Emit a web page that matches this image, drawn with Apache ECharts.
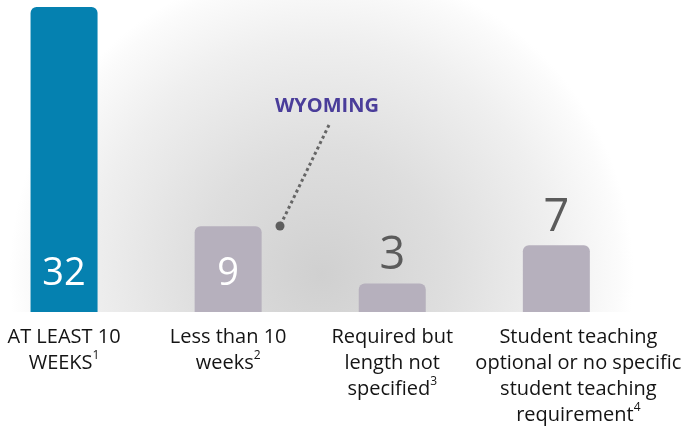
<!DOCTYPE html>
<html>
<head>
<meta charset="utf-8">
<script src="https://cdn.jsdelivr.net/npm/echarts@6/dist/echarts.min.js"></script>
<style>
  html, body { margin: 0; padding: 0; background: #ffffff; }
  #chart { width: 699px; height: 427px; }
</style>
</head>
<body>
<div id="chart"></div>
<script>
// Student teaching requirement length: number of states per category
const categories = [
  'AT LEAST 10\nWEEKS',
  'Less than 10\nweeks',
  'Required but\nlength not\nspecified',
  'Student teaching\noptional or no specific\nstudent teaching\nrequirement'
];
const footnotes = ['1', '2', '3', '4'];
const stateCounts = [32, 9, 3, 7];
const calloutText = 'WYOMING';

const FONT = '"Open Sans", "Noto Sans", "DejaVu Sans", sans-serif';
const BLUE = '#0581b0';
const GREY_BAR = '#b6b0bd';

const chart = echarts.init(document.getElementById('chart'), null, { renderer: 'canvas' });

// Category labels: each line as rich text, footnote mark as a superscript on the last line
function categoryLabel(value) {
  const idx = categories.indexOf(value);
  const lines = value.split('\n');
  return lines.map((l, i) => {
    let s = '{t|' + l + '}';
    if (i === lines.length - 1) s += '{s|' + footnotes[idx] + '}';
    return s;
  }).join('\n');
}

const barData = stateCounts.map((v, i) => {
  const first = i === 0;
  const inside = v >= 8;
  return {
    value: v,
    itemStyle: { color: first ? BLUE : GREY_BAR, borderRadius: [6, 6, 0, 0] },
    label: inside ? {
      show: true, position: 'insideBottom', distance: 18,
      color: '#ffffff', fontSize: 38, lineHeight: 40, fontFamily: FONT, fontWeight: 'normal'
    } : {
      show: true, position: 'top', distance: 4,
      color: '#5b5b5b', fontSize: 45, lineHeight: 46, fontFamily: FONT, fontWeight: 'normal'
    }
  };
});

const axisData = categories.map((c, i) => i === 3
  ? { value: c, textStyle: { padding: [0, 0, 0, 44] } }
  : c);

const option = {
  animation: false,
  backgroundColor: '#ffffff',
  grid: { left: -18, right: 60.6, top: 7, bottom: 115, containLabel: false, outerBoundsMode: 'none' },
  xAxis: {
    type: 'category',
    data: axisData,
    axisLine: { show: false },
    axisTick: { show: false },
    splitLine: { show: false },
    axisLabel: {
      interval: 0,
      margin: 12,
      formatter: categoryLabel,
      rich: {
        t: { fontSize: 20, lineHeight: 26, color: '#141414', fontFamily: FONT },
        s: { fontSize: 12, lineHeight: 20, color: '#141414', fontFamily: FONT, verticalAlign: 'top' }
      }
    }
  },
  yAxis: { type: 'value', min: 0, max: 32, show: false, splitLine: { show: false } },
  graphic: [
    {
      // soft grey radial backdrop behind the bars
      type: 'rect', z: -10, silent: true,
      shape: { x: 0, y: 0, width: 699, height: 312 },
      style: {
        fill: {
          type: 'radial', x: 0.46, y: 0.88, r: 1.0,
          colorStops: [
            { offset: 0, color: '#d0d0d0' },
            { offset: 0.4, color: '#dedede' },
            { offset: 0.75, color: '#efefef' },
            { offset: 0.95, color: '#fbfbfb' },
            { offset: 1, color: '#ffffff' }
          ]
        }
      }
    },
    {
      type: 'text', z: 10, silent: true,
      x: 327, y: 106,
      style: {
        text: calloutText, fill: '#4a3d9a', font: 'bold 20px ' + FONT,
        align: 'center', verticalAlign: 'middle'
      }
    },
    {
      type: 'line', z: 10, silent: true,
      shape: { x1: 329, y1: 125, x2: 280, y2: 226 },
      style: { stroke: '#666666', lineWidth: 3, lineDash: [3, 3], lineCap: 'butt' }
    },
    {
      type: 'circle', z: 10, silent: true,
      shape: { cx: 280, cy: 226, r: 4.5 },
      style: { fill: '#5e5e5e' }
    }
  ],
  series: [{
    type: 'bar',
    data: barData,
    barWidth: 67,
    z: 2
  }]
};

chart.setOption(option);
</script>
</body>
</html>
